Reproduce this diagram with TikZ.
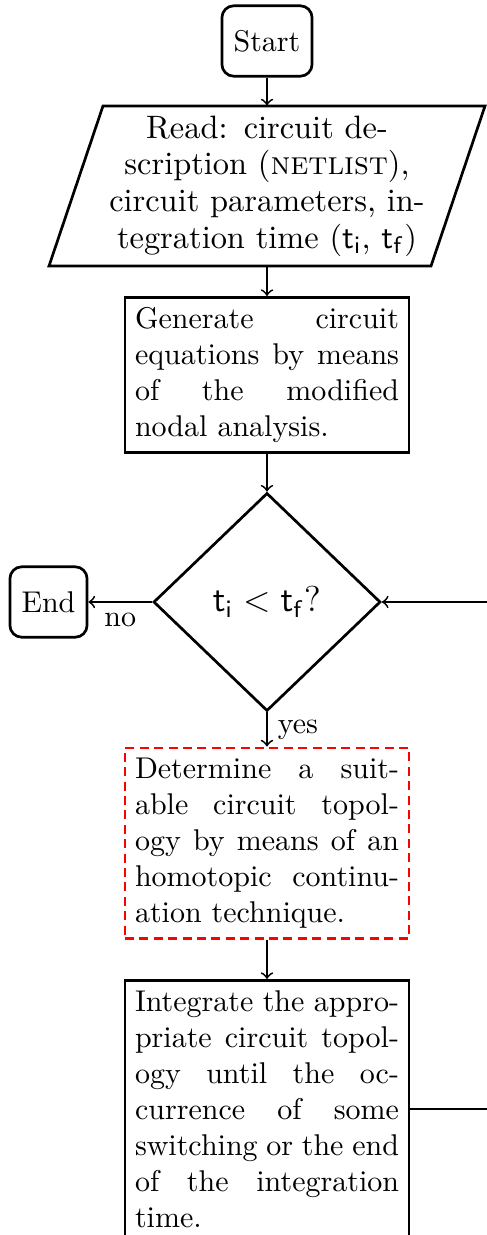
\documentclass[tikz,border=0pt]{standalone}
\usetikzlibrary{shapes.geometric,calc}
\begin{document}
\begin{tikzpicture}[x=0.33333pt,y=-0.33333pt,
  box/.style={draw,line width=0.9pt,text width=88pt,align=justify,inner sep=3.33pt},
  term/.style={draw,line width=0.9pt,rounded corners=4pt,minimum height=23.5pt,inner xsep=3.9pt,inner ysep=3.33pt},
  decision/.style={draw,line width=0.9pt,diamond,minimum width=75.7pt,minimum height=72.7pt,inner sep=0pt,font=\large},
  arr/.style={->,semithick},
  lbl/.style={inner sep=3.33pt}]
\useasboundingbox (0,0) rectangle (487,1235);
\node[term] (start) at (267,41) {Start};
\node[align=center,text width=115pt,minimum height=53.3pt,inner sep=0pt,font=\fontsize{10.8pt}{12.2pt}\selectfont] (read) at (267,186)
  {Read: circuit de-\\scription (\textsc{netlist}),\\circuit parameters, in-\\tegration time ($\mathsf{t_i}$, $\mathsf{t_f}$)};
\draw[line width=0.9pt] ($(read.center)+(-218,80)$) -- ($(read.center)+(164,80)$) -- ($(read.center)+(218,-80)$) -- ($(read.center)+(-164,-80)$) -- cycle;
\node[box] (gen) at (267,375) {Generate circuit\linebreak equations by means\linebreak of the modified\linebreak nodal analysis.};
\node[decision] (dec) at (267,602) {$\mathsf{t_i} < \mathsf{t_f}$?};
\node[term] (end) at (48.5,602) {End};
\node[box,draw=red,dash pattern=on 3pt off 1.8pt] (det) at (267,843) {Determine a suit-\linebreak able circuit topol-\linebreak ogy by means of an\linebreak homotopic continu-\linebreak ation technique.};
\node[box,anchor=north] (integ) at (267,979) {Integrate the appro-\linebreak priate circuit topol-\linebreak ogy until the oc-\linebreak currence of some\linebreak switching or the end\linebreak of the integration\linebreak time.};
\draw[arr] (start) -- (read);
\draw[arr] (read) -- (gen);
\draw[arr] (gen) -- (dec);
\draw[arr] (dec) -- node[lbl,below]{no} (end);
\draw[arr] (dec) -- node[lbl,right]{yes} (det);
\draw[arr] (det) -- (integ);
\draw[arr] (integ.east) -- ++(90,0) |- (dec.east);
\end{tikzpicture}
\end{document}
